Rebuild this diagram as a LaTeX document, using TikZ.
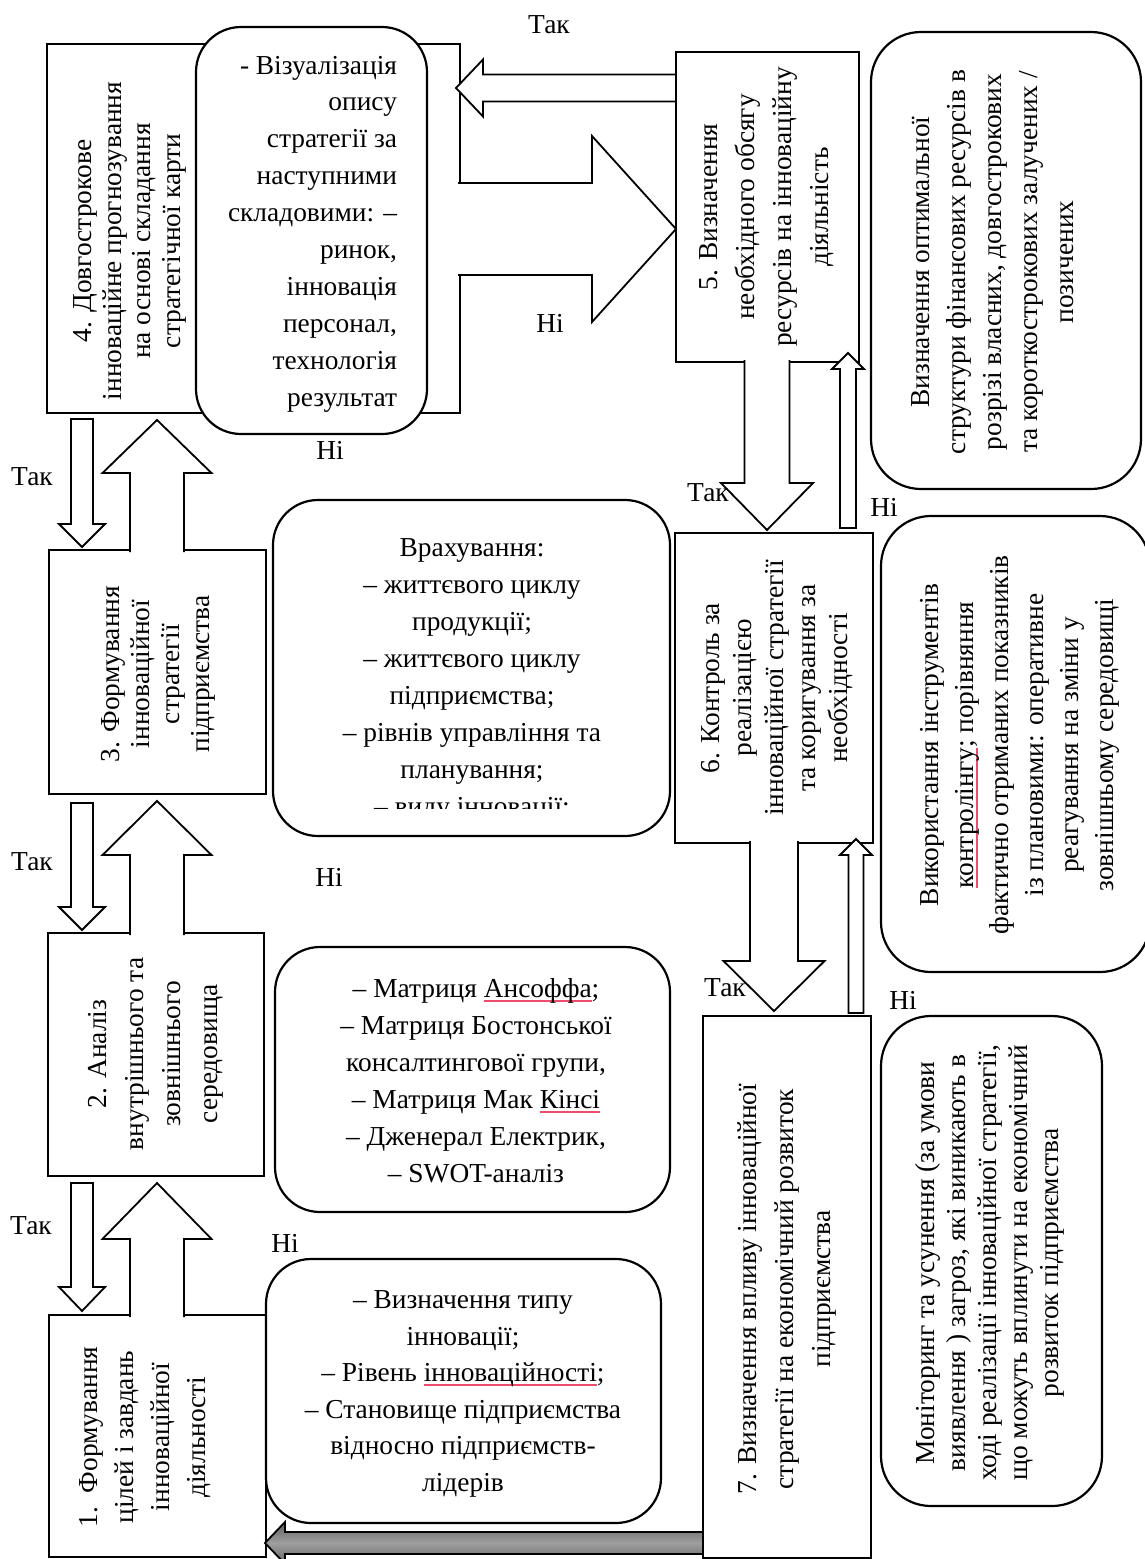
\documentclass[tikz,border=0pt]{standalone}
\usepackage{fontspec}
\setmainfont{Liberation Serif}
\usetikzlibrary{calc}
\definecolor{ulred}{RGB}{236,76,110}
\newcommand\redund[1]{\setbox0\hbox{#1}\rlap{\color{ulred}\rule[-4.5pt]{\wd0}{2.2pt}}\box0}
\newcommand\setfs[1]{\fontsize{27.4}{#1}\selectfont}
% #1 style, #2 start, #3 tip, #4 shaft half width, #5 head half width, #6 head length, #7 closing
\newcommand\blockarrow[7]{%
  \coordinate (hb) at ($(#3)!#6!(#2)$);
  \path[#1] ($(#2)!#4!-90:(#3)$) -- ($(hb)!#4!-90:(#3)$) -- ($(hb)!#5!-90:(#3)$) -- (#3)
     -- ($(hb)!#5!90:(#3)$) -- ($(hb)!#4!90:(#3)$) -- ($(#2)!#4!90:(#3)$) #7;}
\tikzset{
  sqbox/.style={draw, line width=1.8pt, fill=white, inner sep=0pt, outer sep=0pt},
  rbox/.style={draw, line width=2.2pt, fill=white, inner sep=0pt, outer sep=0pt, rounded corners=#1},
  rbox/.default=45pt,
  txt/.style={inner sep=0pt, outer sep=0pt, align=center},
  lbl/.style={inner sep=0pt, font=\setfs{30}},
  warrow/.style={draw, line width=1.8pt, fill=white, line join=miter, miter limit=10},
  garrow/.style={draw, line width=1.8pt, line join=miter, miter limit=10, top color=black!62, bottom color=black!60, middle color=black!38},
}
\begin{document}
\begin{tikzpicture}[x=1pt,y=-1pt]
\useasboundingbox (0,0) rectangle (1145,1559);
\fill[white] (0,0) rectangle (1145,1559);

% ---- top row
\node[sqbox, minimum width=413pt, minimum height=369pt] (b4) at (253.5,228.5) {};
\node[rbox, minimum width=231pt, minimum height=407pt] (bA) at (311.5,230.5) {};
\node[sqbox, minimum width=183pt, minimum height=310pt] (b5) at (767.5,207) {};
\node[rbox=50pt, minimum width=270pt, minimum height=457pt] (bB) at (1006,260.5) {};
% ---- middle right
\node[sqbox, minimum width=198pt, minimum height=310pt] (b6) at (774,688) {};
\node[rbox=50pt, minimum width=269pt, minimum height=456pt] (bC) at (1015.5,744) {};
% ---- left column
\node[sqbox, minimum width=217pt, minimum height=244pt] (b3) at (157.5,672) {};
\node[rbox, minimum width=397pt, minimum height=336pt] (bD) at (471.5,668) {};
\node[sqbox, minimum width=216pt, minimum height=243pt] (b2) at (156,1054.5) {};
\node[rbox, minimum width=395pt, minimum height=265pt] (bD2) at (472.5,1079.5) {};
\node[sqbox, minimum width=217pt, minimum height=242pt] (b1) at (157.5,1436) {};
\node[rbox, minimum width=395pt, minimum height=264pt] (bE) at (463.5,1391) {};

% gray arrow 7 -> 1
\coordinate (s71) at ($(b1.east |- 0,1543)+(438,0)$);
\coordinate (e71) at ($(b1.east |- 0,1543)+(-1,0)$);
\blockarrow{garrow}{s71}{e71}{11pt}{21pt}{20pt}{-- cycle}

\node[sqbox, minimum width=168pt, minimum height=542pt] (b7) at (787,1287) {};
\node[rbox=50pt, minimum width=221pt, minimum height=490pt] (bF) at (991.5,1261) {};

% ---- arrows top
\coordinate (s54) at (b5.west |- 0,88);
\coordinate (e54) at ($(b4.east |- 0,88)+(-4,0)$);
\blockarrow{warrow}{s54}{e54}{13.5pt}{28.5pt}{27pt}{-- cycle}
\coordinate (s45) at ($(b4.east |- 0,229)+(-2,0)$);
\coordinate (e45) at (b5.west |- 0,229);
\blockarrow{warrow}{s45}{e45}{46pt}{93pt}{84pt}{}
% right column
\coordinate (s56) at ($(b5.south -| 767,0)+(0,-2)$);
\coordinate (e56) at ($(b6.north -| 767,0)+(0,-3)$);
\blockarrow{warrow}{s56}{e56}{22.5pt}{46pt}{47pt}{}
\coordinate (s65) at ($(b6.north -| 848,0)+(0,-5)$);
\coordinate (e65) at ($(b5.south -| 848,0)+(0,-9)$);
\blockarrow{warrow}{s65}{e65}{8pt}{16pt}{16pt}{-- cycle}
\coordinate (s67) at ($(b6.south -| 774,0)+(0,-2)$);
\coordinate (e67) at ($(b7.north -| 774,0)+(0,-5)$);
\blockarrow{warrow}{s67}{e67}{24pt}{50.5pt}{50pt}{}
\coordinate (s76) at ($(b7.north -| 856,0)+(0,-3)$);
\coordinate (e76) at ($(b6.south -| 856,0)+(0,-4)$);
\blockarrow{warrow}{s76}{e76}{7.5pt}{16pt}{16pt}{-- cycle}
% left column
\coordinate (s43) at ($(b4.south -| 82,0)+(0,6)$);
\coordinate (e43) at ($(b3.north -| 82,0)+(0,-3)$);
\blockarrow{warrow}{s43}{e43}{11pt}{23pt}{23pt}{-- cycle}
\coordinate (s34) at ($(b3.north -| 157,0)+(0,2)$);
\coordinate (e34) at ($(b4.south -| 157,0)+(0,7)$);
\blockarrow{warrow}{s34}{e34}{27pt}{54.5pt}{53pt}{}
\coordinate (s32) at ($(b3.south -| 82,0)+(0,9)$);
\coordinate (e32) at ($(b2.north -| 82,0)+(0,-3)$);
\blockarrow{warrow}{s32}{e32}{11pt}{23pt}{23pt}{-- cycle}
\coordinate (s23) at ($(b2.north -| 157,0)+(0,2)$);
\coordinate (e23) at ($(b3.south -| 157,0)+(0,7)$);
\blockarrow{warrow}{s23}{e23}{27pt}{54.5pt}{54pt}{}
\coordinate (s21) at ($(b2.south -| 82,0)+(0,7)$);
\coordinate (e21) at ($(b1.north -| 82,0)+(0,-4)$);
\blockarrow{warrow}{s21}{e21}{11pt}{23pt}{24pt}{-- cycle}
\coordinate (s12) at ($(b1.north -| 157,0)+(0,2)$);
\coordinate (e12) at ($(b2.south -| 157,0)+(0,7)$);
\blockarrow{warrow}{s12}{e12}{27pt}{54.5pt}{56pt}{}

% ---- texts
\node[txt, rotate=90, font=\setfs{29.7}] (t4) at (130,241) {4. Довгострокове\\ інноваційне прогнозування\\ на основі складання\\ стратегічної карти};
\node[txt, align=right, anchor=east, font=\setfs{36.9}] (tA) at (397,234) {- Візуалізація\\ опису\\ стратегії за\\ наступними\\ складовими: –\\ ринок,\\ інновація\\ персонал,\\ технологія\\ результат};
\node[txt, rotate=90, font=\setfs{37}] (t5) at (767,207) {5. Визначення\\ необхідного обсягу\\ ресурсів на інноваційну\\ діяльність};
\node[txt, rotate=90, font=\setfs{36}] (tB) at (993,262) {Визначення оптимальної\\ структури фінансових ресурсів в\\ розрізі власних, довгострокових\\ та короткострокових залучених /\\ позичених};
\node[txt, rotate=90, font=\setfs{32}] (t6) at (777,688) {6. Контроль за\\ реалізацією\\ інноваційної стратегії\\ та коригування за\\ необхідності};
\node[txt, rotate=90, font=\setfs{35}] (tC) at (1020,745) {Використання інструментів\\ \redund{контролінгу}; порівняння\\ фактично отриманих показників\\ із плановими: оперативне\\ реагування на зміни у\\ зовнішньому середовищі};
\node[txt, rotate=90, font=\setfs{37}] (t7) at (787,1289) {7. Визначення впливу інноваційної\\ стратегії на економічний розвиток\\ підприємства};
\node[txt, rotate=90, font=\setfs{31}] (tF) at (990,1263) {Моніторинг та усунення (за умови\\ виявлення ) загроз, які виникають в\\ ході реалізації інноваційної стратегії,\\ що можуть вплинути на економічний\\ розвиток підприємства};
\node[txt, rotate=90, font=\setfs{30}] (t3) at (158,674) {3. Формування\\ інноваційної\\ стратегії\\ підприємства};
\begin{scope}
  \clip (276,503) rectangle (667,808);
  \node[txt, font=\setfs{37}] (tD) at (472,680) {Врахування:\\ – життєвого циклу\\ продукції;\\ – життєвого циклу\\ підприємства;\\ – рівнів управління та\\ планування;\\ – виду інновації:};
\end{scope}
\node[txt, rotate=90, font=\setfs{37}] (t2) at (156,1054) {2. Аналіз\\ внутрішнього та\\ зовнішнього\\ середовища};
\node[txt, font=\setfs{37}] (tD2) at (476,1081) {– Матриця \redund{Ансоффа};\\ – Матриця Бостонської\\ консалтингової групи,\\ – Матриця Мак \redund{Кінсі}\\ – Дженерал Електрик,\\ – SWOT-аналіз};
\node[txt, rotate=90, font=\setfs{36}] (t1) at (145,1437) {1.~~Формування\\ цілей і завдань\\ інноваційної\\ діяльності};
\node[txt, font=\setfs{36.6}] (tE) at (463,1394) {– Визначення типу\\ інновації;\\ – Рівень \redund{інноваційності};\\ – Становище підприємства\\ відносно підприємств-\\ лідерів};

% ---- labels
\node[lbl] (l1) at (549,25) {Так};
\node[lbl] (l2) at (550,323) {Ні};
\node[lbl] (l3) at (330,450) {Ні};
\node[lbl] (l4) at (32,477) {Так};
\node[lbl] (l5) at (32,862) {Так};
\node[lbl] (l6) at (329,877) {Ні};
\node[lbl] (l7) at (31,1226) {Так};
\node[lbl] (l8) at (285,1243) {Ні};
\node[lbl] (l9) at (708,493) {Так};
\node[lbl] (l10) at (884,507) {Ні};
\node[lbl] (l11) at (725,988) {Так};
\node[lbl] (l12) at (903,1000) {Ні};
\end{tikzpicture}
\end{document}
